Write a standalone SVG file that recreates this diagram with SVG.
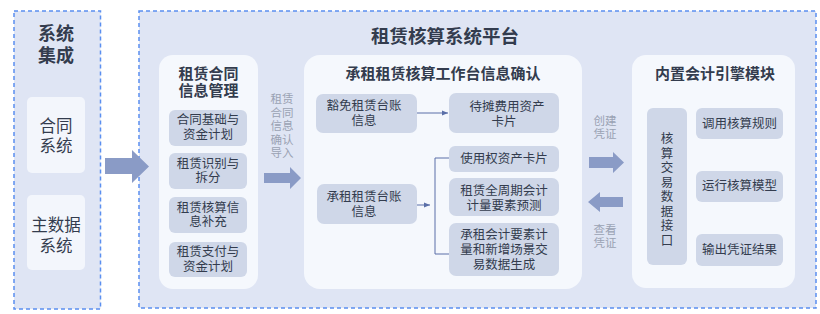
<svg xmlns="http://www.w3.org/2000/svg" width="820" height="314" viewBox="0 0 820 314">
<style>
text{font-family:"Liberation Sans","Noto Sans CJK SC",sans-serif;dominant-baseline:central;text-anchor:middle;fill:#333c4e}
.dash{fill:#dfe5f4;stroke:#5b8ff0;stroke-width:1.5;stroke-dasharray:4 3}
.panel{fill:#f5f8fd}
.sys{fill:#f3f6fc}
.item{fill:#cfd7e8}
.t1{font-size:18px;font-weight:700}
.t2{font-size:15px;font-weight:700}
.t3{font-size:12.5px}
.t4{font-size:16.5px}
.lbl{font-size:11.5px;fill:#9aa2b3}
.big{fill:#8a9bc6}
.ln{stroke:#5a6fa8;stroke-width:1;fill:none}
</style>
<defs>
<marker id="ah" viewBox="0 0 6 6" refX="6" refY="3" markerWidth="6" markerHeight="6" orient="auto" markerUnits="userSpaceOnUse">
<path d="M0,0.5 L6,3 L0,5.5 Z" fill="#5a6fa8"/>
</marker>
</defs>
<rect width="820" height="314" fill="#ffffff"/>

<g id="system-integration">
<rect class="dash" x="14" y="11" width="86.5" height="298"/>
<text class="t1"><tspan x="56" y="34">系统</tspan><tspan x="56" y="56">集成</tspan></text>
</g>
<g id="contract-system">
<rect class="sys" x="27" y="97" width="58" height="76" rx="5"/>
<text class="t4"><tspan x="56" y="126">合同</tspan><tspan x="56" y="146">系统</tspan></text>
</g>
<g id="master-data-system">
<rect class="sys" x="27" y="195" width="58" height="75" rx="5"/>
<text class="t4"><tspan x="56" y="225">主数据</tspan><tspan x="56" y="246">系统</tspan></text>
</g>

<g id="platform">
<rect class="dash" x="139" y="11" width="677" height="297"/>
<text class="t1" x="445" y="36" style="font-size:18.5px">租赁核算系统平台</text>
</g>

<g id="contract-info-mgmt">
<rect class="panel" x="159" y="55" width="99" height="234" rx="14"/>
<text class="t2"><tspan x="208.5" y="73">租赁合同</tspan><tspan x="208.5" y="90">信息管理</tspan></text>
</g>
<g id="item-contract-basic">
<rect class="item" x="169" y="110" width="78" height="36" rx="6"/>
<text class="t3"><tspan x="208" y="120">合同基础与</tspan><tspan x="208" y="135">资金计划</tspan></text>
</g>
<g id="item-lease-identify">
<rect class="item" x="169" y="153" width="78" height="36" rx="6"/>
<text class="t3"><tspan x="208" y="164">租赁识别与</tspan><tspan x="208" y="178">拆分</tspan></text>
</g>
<g id="item-lease-accounting-info">
<rect class="item" x="169" y="197" width="78" height="36" rx="6"/>
<text class="t3"><tspan x="208" y="208">租赁核算信</tspan><tspan x="208" y="222">息补充</tspan></text>
</g>
<g id="item-lease-payment">
<rect class="item" x="169" y="242" width="78" height="35" rx="6"/>
<text class="t3"><tspan x="208" y="252">租赁支付与</tspan><tspan x="208" y="267">资金计划</tspan></text>
</g>

<g id="workbench">
<rect class="panel" x="304" y="55" width="278" height="234" rx="16"/>
<text class="t2" x="443" y="73">承租租赁核算工作台信息确认</text>
</g>
<g id="exempt-ledger">
<rect class="item" x="316" y="94" width="101" height="39" rx="7"/>
<text class="t3"><tspan x="364" y="106">豁免租赁台账</tspan><tspan x="364" y="121">信息</tspan></text>
</g>
<g id="lessee-ledger">
<rect class="item" x="317" y="184" width="100" height="40" rx="7"/>
<text class="t3"><tspan x="364" y="197">承租租赁台账</tspan><tspan x="364" y="212">信息</tspan></text>
</g>
<g id="prepaid-asset-card">
<rect class="item" x="449" y="93" width="110" height="40" rx="7"/>
<text class="t3"><tspan x="507" y="107">待摊费用资产</tspan><tspan x="504" y="122">卡片</tspan></text>
</g>
<g id="rou-asset-card">
<rect class="item" x="449" y="146" width="110" height="26" rx="6"/>
<text class="t3" x="504" y="159">使用权资产卡片</text>
</g>
<g id="lifecycle-forecast">
<rect class="item" x="449" y="178" width="110" height="38" rx="7"/>
<text class="t3"><tspan x="504" y="191">租赁全周期会计</tspan><tspan x="504" y="206">计量要素预测</tspan></text>
</g>
<g id="measurement-generation">
<rect class="item" x="449" y="223" width="110" height="53" rx="7"/>
<text class="t3"><tspan x="504" y="235">承租会计要素计</tspan><tspan x="504" y="250">量和新增场景交</tspan><tspan x="504" y="265">易数据生成</tspan></text>
</g>

<g id="engine">
<rect class="panel" x="632" y="55" width="163" height="233" rx="14"/>
<text class="t2" x="715" y="73">内置会计引擎模块</text>
</g>
<g id="data-interface">
<rect class="item" x="647" y="108" width="40" height="157" rx="6"/>
<text class="t3"><tspan x="667" y="139">核</tspan><tspan x="667" y="153.5">算</tspan><tspan x="667" y="168">交</tspan><tspan x="667" y="182.5">易</tspan><tspan x="667" y="197">数</tspan><tspan x="667" y="211.5">据</tspan><tspan x="667" y="226">接</tspan><tspan x="667" y="240.5">口</tspan></text>
</g>
<g id="call-rules">
<rect class="item" x="696" y="108" width="87" height="31" rx="6"/>
<text class="t3" x="739.5" y="124">调用核算规则</text>
</g>
<g id="run-model">
<rect class="item" x="696" y="171" width="87" height="31" rx="6"/>
<text class="t3" x="739.5" y="186">运行核算模型</text>
</g>
<g id="output-voucher">
<rect class="item" x="696" y="234" width="87" height="32" rx="6"/>
<text class="t3" x="739.5" y="250">输出凭证结果</text>
</g>

<g id="connectors">
<path class="big" d="M105,158 H132 V150 L149,166.5 L132,183 V174 H105 Z"/>
<path class="big" d="M264,173 H290 V167 L301,178 L290,189 V183 H264 Z"/>
<path class="big" d="M589,157 H613 V152 L624,162.5 L613,173 V168 H589 Z"/>
<path class="big" d="M623,197 H600 V192 L588,202 L600,212 V207 H623 Z"/>
<line class="ln" x1="417" y1="113" x2="448" y2="113" marker-end="url(#ah)"/>
<line class="ln" x1="417" y1="205" x2="430" y2="205" marker-end="url(#ah)"/>
<path class="ln" d="M449,158 H435 V254 H449"/>
<text class="lbl"><tspan x="282" y="99">租赁</tspan><tspan x="282" y="113">合同</tspan><tspan x="282" y="126">信息</tspan><tspan x="282" y="140">确认</tspan><tspan x="282" y="153">导入</tspan></text>
<text class="lbl"><tspan x="605" y="121">创建</tspan><tspan x="605" y="134">凭证</tspan></text>
<text class="lbl"><tspan x="605" y="230">查看</tspan><tspan x="605" y="243">凭证</tspan></text>
</g>
</svg>
